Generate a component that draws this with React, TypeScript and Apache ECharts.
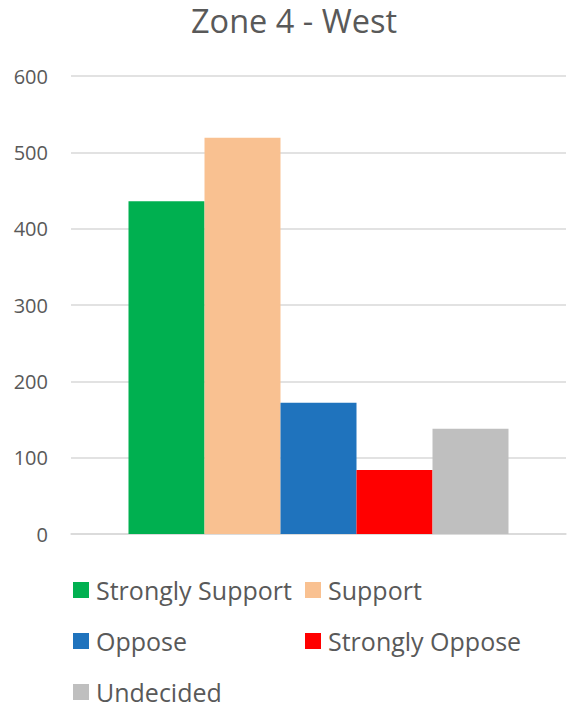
import React, { useEffect, useRef } from "react";
import * as echarts from "echarts";

const categories = ["Zone 4 - West"];
const seriesNames = ["Strongly Support", "Support", "Oppose", "Strongly Oppose", "Undecided"];
const seriesValues = [436, 519, 172, 84, 138];
const seriesColors = ["#00b050", "#f9c191", "#1f73bd", "#ff0000", "#bfbfbf"];
const legendCols = [0, 1, 0, 1, 0];
const legendRows = [0, 0, 1, 1, 2];

const FONT = "'Open Sans', sans-serif";

export default function App() {
  const ref = useRef<HTMLDivElement>(null);
  useEffect(() => {
    document.body.style.margin = "0";
    const chart = echarts.init(ref.current!, null, { renderer: "svg" });
    const legends = seriesNames.map((name, i) => ({
      orient: "horizontal",
      icon: "rect",
      itemWidth: 16,
      itemHeight: 16,
      padding: 0,
      selectedMode: false,
      left: legendCols[i] === 0 ? 73 : 305,
      top: 577 + legendRows[i] * 51,
      data: [name],
      textStyle: {
        color: "#595959",
        fontSize: 25,
        fontFamily: FONT,
        lineHeight: 26,
        padding: [0, 0, 0, 2],
      },
    }));
    chart.setOption({
      animation: false,
      backgroundColor: "#ffffff",
      title: {
        text: "Zone 4 - West",
        left: 191,
        top: 4,
        padding: 0,
        textStyle: { color: "#595959", fontSize: 32.5, fontWeight: "normal", fontFamily: FONT },
      },
      grid: { left: 71, right: 1, top: 76, bottom: 174, containLabel: false },
      legend: legends,
      xAxis: {
        type: "category",
        data: categories,
        axisLine: { show: true, lineStyle: { color: "#d9d9d9", width: 1.5 } },
        axisTick: { show: false },
        axisLabel: { show: false },
      },
      yAxis: {
        type: "value",
        min: 0,
        max: 600,
        interval: 100,
        axisLine: { show: false },
        axisTick: { show: false },
        splitLine: { lineStyle: { color: "#d9d9d9", width: 1.5 } },
        axisLabel: { color: "#595959", fontSize: 20, fontFamily: FONT, margin: 23 },
      },
      series: seriesNames.map((name, i) => ({
        name,
        type: "bar",
        data: [seriesValues[i]],
        itemStyle: { color: seriesColors[i] },
        barWidth: 76,
        barGap: "0%",
      })),
    });
    return () => chart.dispose();
  }, []);
  return <div ref={ref} style={{ width: 567, height: 708 }} />;
}
